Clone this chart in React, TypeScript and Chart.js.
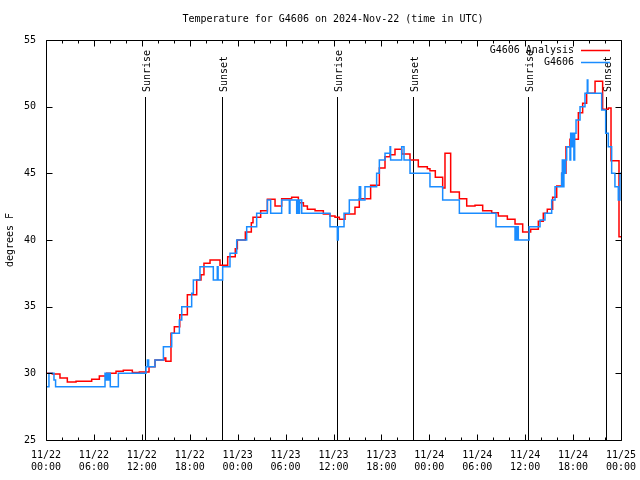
import React, { useEffect, useRef } from "react";
import { Chart, registerables } from "chart.js";

Chart.register(...registerables);

const FONT = '"DejaVu Sans Mono", "Liberation Mono", monospace';

const titleText = "Temperature for G4606 on 2024-Nov-22 (time in UTC)";
const yAxisTitle = "degrees F";

// hours since 2024-11-22 00:00 UTC
const xTickDates = ["11/22", "11/22", "11/22", "11/22", "11/23", "11/23", "11/23", "11/23", "11/24", "11/24", "11/24", "11/24", "11/25"];
const xTickTimes = ["00:00", "06:00", "12:00", "18:00", "00:00", "06:00", "12:00", "18:00", "00:00", "06:00", "12:00", "18:00", "00:00"];

const sunEventHours = [12.43, 22.07, 36.48, 46.0, 60.4, 70.08];
const sunEventLabels = ["Sunrise", "Sunset", "Sunrise", "Sunset", "Sunrise", "Sunset"];

const analysisLabel = "G4606 Analysis";
const analysisHours = [0, 0.79, 1.75, 2.67, 3.76, 5.72, 6.68, 7.6, 8.77, 9.68, 10.81, 11.69, 12.9, 13.65, 14.78, 15.0, 15.65, 16.07, 16.75, 17.7, 18.87, 19.41, 19.78, 20.54, 21.79, 22.75, 23.7, 23.96, 24.96, 25.71, 25.92, 26.88, 27.72, 28.68, 29.51, 30.76, 31.6, 32.23, 32.73, 33.69, 34.73, 35.56, 36.19, 36.73, 37.44, 38.69, 39.23, 40.65, 41.74, 42.45, 43.08, 43.7, 44.54, 45.58, 46.62, 47.75, 48.08, 48.75, 49.67, 49.96, 50.67, 51.76, 52.68, 53.72, 54.68, 55.81, 56.64, 57.77, 58.73, 59.69, 60.69, 61.65, 62.27, 62.77, 63.44, 63.95, 64.57, 65.11, 65.61, 66.66, 67.2, 67.7, 68.75, 69.7, 70.41, 70.75, 71.75, 72];
const analysisTemps = [30.0, 29.95, 29.65, 29.35, 29.4, 29.55, 29.8, 30.0, 30.15, 30.23, 30.07, 30.1, 30.5, 31.0, 31.15, 30.9, 33.0, 33.5, 34.4, 35.9, 37.0, 37.4, 38.25, 38.5, 38.1, 38.75, 39.35, 40.0, 40.6, 41.3, 41.7, 42.2, 43.05, 42.55, 43.1, 43.2, 42.8, 42.55, 42.3, 42.2, 41.95, 41.8, 41.7, 41.55, 41.95, 42.45, 43.1, 44.1, 45.4, 46.25, 46.4, 46.8, 46.45, 46.0, 45.5, 45.35, 45.2, 44.7, 43.9, 46.5, 43.6, 43.1, 42.55, 42.6, 42.2, 42.05, 41.8, 41.55, 41.2, 40.6, 40.8, 41.4, 42.0, 42.3, 43.2, 44.05, 45.0, 47.0, 47.55, 49.55, 50.25, 51.0, 51.9, 49.8, 49.9, 45.95, 40.25, 40.25];

const obsLabel = "G4606";
const obsHours = [0, 0.37, 1.0, 1.2, 7.39, 7.55, 7.65, 7.75, 7.89, 8.05, 9.06, 12.52, 12.7, 12.85, 13.65, 14.7, 15.74, 16.7, 17.0, 18.24, 18.45, 19.28, 20.95, 21.45, 21.55, 22.12, 23.04, 23.88, 25.13, 26.38, 27.72, 28.13, 29.51, 30.47, 30.55, 31.39, 31.5, 31.65, 31.75, 32.02, 35.56, 36.48, 36.6, 37.32, 37.98, 39.23, 39.4, 39.94, 41.4, 41.74, 42.45, 43.08, 43.15, 44.54, 44.83, 45.58, 48.08, 49.67, 51.76, 56.35, 58.73, 58.8, 58.9, 59.0, 59.14, 60.5, 61.86, 62.48, 63.32, 63.74, 64.57, 64.65, 64.75, 64.85, 64.95, 65.05, 65.2, 65.61, 65.7, 65.8, 65.95, 66.1, 66.2, 66.37, 66.87, 67.49, 67.78, 67.85, 69.58, 70.08, 70.41, 70.83, 71.24, 71.66, 71.87, 72];
const obsTemps = [29, 30, 29.5, 29, 30, 29.5, 30, 29.5, 30, 29, 30, 30.5, 31, 30.5, 31, 32, 33, 34, 35, 36, 37, 38, 37, 38, 37, 38, 39, 40, 41, 42, 43, 42, 43, 42, 43, 42, 43, 42, 43, 42, 41, 40, 41, 42, 43, 44, 43, 44, 45, 46, 46.5, 47, 46, 47, 46, 45, 44, 43, 42, 41, 40, 41, 40, 41, 40, 41, 41.5, 42, 43, 44, 45, 46, 44, 46, 45, 46, 47, 46, 48, 47, 48, 46, 48, 49, 50, 51, 52, 51, 49.75, 48, 47, 45, 44, 43, 45, 45];

const analysisColor = "#ff0000";
const obsColor = "#1a8cff";

const framePlugin = {
  id: "gnuplotFrame",
  beforeDatasetsDraw(chart: any) {
    const { ctx, chartArea, scales } = chart;
    const x = scales.x;
    ctx.save();
    // title
    ctx.fillStyle = "#000";
    ctx.font = `10px ${FONT}`;
    ctx.textAlign = "center";
    ctx.textBaseline = "middle";
    ctx.fillText(titleText, 333, 19);

    ctx.strokeStyle = "#000";
    ctx.lineWidth = 1;
    sunEventHours.forEach((h, i) => {
      const px = Math.round(x.getPixelForValue(h)) + 0.5;
      ctx.beginPath();
      ctx.moveTo(px, chartArea.top + 57);
      ctx.lineTo(px, chartArea.bottom);
      ctx.stroke();
      ctx.save();
      ctx.translate(px + 4, chartArea.top + 52);
      ctx.rotate(-Math.PI / 2);
      ctx.textAlign = "left";
      ctx.textBaseline = "alphabetic";
      ctx.fillText(sunEventLabels[i], 0, 0);
      ctx.restore();
    });
    ctx.restore();
  },
  afterDatasetsDraw(chart: any) {
    const { ctx, chartArea, scales } = chart;
    const x = scales.x;
    const y = scales.y;
    const L = Math.round(chartArea.left) + 0.5;
    const R = Math.round(chartArea.right) + 0.5;
    const T = Math.round(chartArea.top) + 0.5;
    const B = Math.round(chartArea.bottom) + 0.5;
    ctx.save();
    ctx.strokeStyle = "#000";
    ctx.lineWidth = 1;
    ctx.beginPath();
    ctx.rect(L, T, R - L, B - T);
    ctx.stroke();
    ctx.beginPath();
    for (let h = 0; h <= 72; h += 2) {
      const px = Math.round(x.getPixelForValue(h)) + 0.5;
      const len = h % 6 === 0 ? 6 : 3;
      ctx.moveTo(px, B);
      ctx.lineTo(px, B - len);
      ctx.moveTo(px, T);
      ctx.lineTo(px, T + len);
    }
    for (let v = 25; v <= 55; v += 5) {
      const py = Math.round(y.getPixelForValue(v)) + 0.5;
      ctx.moveTo(L, py);
      ctx.lineTo(L + 6, py);
      ctx.moveTo(R, py);
      ctx.lineTo(R - 6, py);
    }
    ctx.stroke();

    // legend
    const items = [
      { label: analysisLabel, color: analysisColor },
      { label: obsLabel, color: obsColor },
    ];
    ctx.font = `10px ${FONT}`;
    ctx.textAlign = "right";
    ctx.textBaseline = "middle";
    items.forEach((it, i) => {
      const ly = chartArea.top + 10 + i * 12;
      ctx.fillStyle = "#000";
      ctx.fillText(it.label, chartArea.right - 47, ly);
      ctx.strokeStyle = it.color;
      ctx.lineWidth = 1.5;
      ctx.beginPath();
      ctx.moveTo(chartArea.right - 40, Math.round(ly) + 0.5);
      ctx.lineTo(chartArea.right - 11, Math.round(ly) + 0.5);
      ctx.stroke();
    });
    ctx.restore();
  },
};

export default function App() {
  const ref = useRef<HTMLCanvasElement | null>(null);

  useEffect(() => {
    if (!ref.current) return;
    const analysisData = analysisHours.map((h, i) => ({ x: h, y: analysisTemps[i] }));
    const obsData = obsHours.map((h, i) => ({ x: h, y: obsTemps[i] }));
    const chart = new Chart(ref.current, {
      type: "line",
      data: {
        datasets: [
          {
            label: analysisLabel,
            data: analysisData,
            borderColor: analysisColor,
            backgroundColor: analysisColor,
            borderWidth: 1.5,
            pointRadius: 0,
            stepped: true,
            order: 2,
          },
          {
            label: obsLabel,
            data: obsData,
            borderColor: obsColor,
            backgroundColor: obsColor,
            borderWidth: 1.5,
            pointRadius: 0,
            stepped: true,
            order: 1,
          },
        ],
      },
      plugins: [framePlugin],
      options: {
        animation: false,
        responsive: false,
        devicePixelRatio: 1,
        layout: { padding: { top: 40, right: 19, left: 0, bottom: 0 } },
        plugins: {
          legend: { display: false },
          tooltip: { enabled: false },
          title: { display: false },
        },
        scales: {
          x: {
            type: "linear",
            min: 0,
            max: 72,
            grid: { display: false, drawTicks: false },
            border: { display: false },
            afterFit(s: any) {
              s.height = 40;
              s.paddingLeft = 0;
              s.paddingRight = 0;
            },
            ticks: {
              stepSize: 6,
              autoSkip: false,
              maxRotation: 0,
              padding: 9,
              color: "#000",
              font: { family: FONT, size: 10, lineHeight: 1.2 },
              callback: (v: any) => {
                const i = Math.round(Number(v) / 6);
                return [xTickDates[i], xTickTimes[i]];
              },
            },
          },
          y: {
            type: "linear",
            min: 25,
            max: 55,
            grid: { display: false, drawTicks: false },
            border: { display: false },
            afterFit(s: any) {
              s.width = 46;
              s.paddingTop = 0;
              s.paddingBottom = 0;
            },
            title: {
              display: true,
              text: yAxisTitle,
              color: "#000",
              font: { family: FONT, size: 10, lineHeight: 1.2 },
              padding: { top: 4, bottom: 0 },
            },
            ticks: {
              stepSize: 5,
              padding: 10,
              color: "#000",
              font: { family: FONT, size: 10 },
            },
          },
        },
      },
    });
    return () => chart.destroy();
  }, []);

  return (
    <div style={{ position: "absolute", left: 0, top: 0, width: 640, height: 480, background: "#fff" }}>
      <canvas ref={ref} width={640} height={480} style={{ display: "block" }} />
    </div>
  );
}
